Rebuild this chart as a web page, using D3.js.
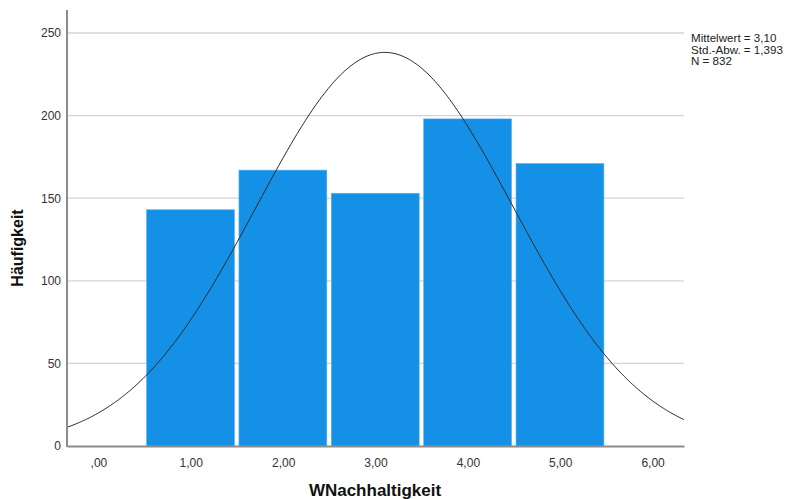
<!DOCTYPE html>
<html><head><meta charset="utf-8">
<script src="https://cdn.jsdelivr.net/npm/d3@7"></script>
<style>body{margin:0;background:#fff}svg{display:block;font-family:"Liberation Sans",Arial,sans-serif}</style>
</head><body><svg id="c" width="788" height="499"></svg>
<script>
const categories = [1, 2, 3, 4, 5];
const counts = [143, 167, 153, 198, 171];
const xTicks = [0, 1, 2, 3, 4, 5, 6];
const yTicks = [0, 50, 100, 150, 200, 250];
const stats = ["Mittelwert = 3,10", "Std.-Abw. = 1,393", "N = 832"];
const mean = 3.10, sd = 1.393, N = 832, binWidth = 1;

(function () {
const svg = d3.select("#c");
const mLeft = 67, mRight = 684, mTop = 10, mBottom = 446;
const x = d3.scaleLinear().domain([-0.34, 6.34]).range([mLeft, mRight]);
const y = d3.scaleLinear().domain([0, 250]).range([mBottom, 33]);
const fmt = v => (v === 0 ? ",00" : v.toFixed(2).replace(".", ","));

// gridlines
svg.append("g").selectAll("line").data(yTicks.filter(d => d > 0)).join("line")
  .attr("x1", mLeft).attr("x2", mRight).attr("y1", d => y(d)).attr("y2", d => y(d))
  .attr("stroke", "#d4d4d4").attr("stroke-width", 1.3);

// bars
svg.append("g").selectAll("rect").data(categories).join("rect")
  .attr("x", (d) => x(d - 0.5) + 2)
  .attr("width", d => x(d + 0.5) - x(d - 0.5) - 4.5)
  .attr("y", (d, i) => y(counts[i]))
  .attr("height", (d, i) => mBottom - y(counts[i]))
  .attr("fill", "#1490e6").attr("stroke", "#5ab0ee").attr("stroke-width", 0.6);

// normal curve
const pts = d3.range(0, 301).map(i => {
  const v = -0.34 + i * (6.68 / 300);
  const z = (v - mean) / sd;
  return [v, N * binWidth / (sd * Math.sqrt(2 * Math.PI)) * Math.exp(-0.5 * z * z)];
});
svg.append("path").datum(pts)
  .attr("d", d3.line().x(d => x(d[0])).y(d => y(d[1])).curve(d3.curveBasis))
  .attr("fill", "none").attr("stroke", "#2a2a2a").attr("stroke-width", 1);

// axes
const xa = svg.append("g").attr("transform", `translate(0,${mBottom})`)
  .call(d3.axisBottom(x).tickValues(xTicks).tickFormat(fmt).tickSize(0).tickPadding(12));
xa.select(".domain").attr("stroke", "#8c8c8c").attr("stroke-width", 2);
xa.selectAll("text").attr("font-size", 12).attr("fill", "#333").attr("font-family", "Liberation Sans, Arial");

const ya = svg.append("g").attr("transform", `translate(${mLeft},0)`)
  .call(d3.axisLeft(y).tickValues(yTicks).tickSize(0).tickPadding(6));
ya.select(".domain").remove();
ya.selectAll("text").attr("font-size", 12).attr("fill", "#333").attr("font-family", "Liberation Sans, Arial");
svg.append("line").attr("x1", mLeft).attr("x2", mLeft).attr("y1", mTop).attr("y2", mBottom + 1)
  .attr("stroke", "#8c8c8c").attr("stroke-width", 2);

// titles
svg.append("text").attr("transform", `translate(23,248) rotate(-90)`)
  .attr("text-anchor", "middle").attr("font-weight", "bold").attr("font-size", 16).attr("fill", "#111")
  .text("Häufigkeit");
svg.append("text").attr("x", 375).attr("y", 496).attr("text-anchor", "middle")
  .attr("font-weight", "bold").attr("font-size", 17).attr("fill", "#111").text("WNachhaltigkeit");

// stats
svg.append("g").selectAll("text").data(stats).join("text")
  .attr("x", 691).attr("y", (d, i) => 42 + i * 11.5)
  .attr("font-size", 11.6).attr("fill", "#222").text(d => d);
})();
</script></body></html>
